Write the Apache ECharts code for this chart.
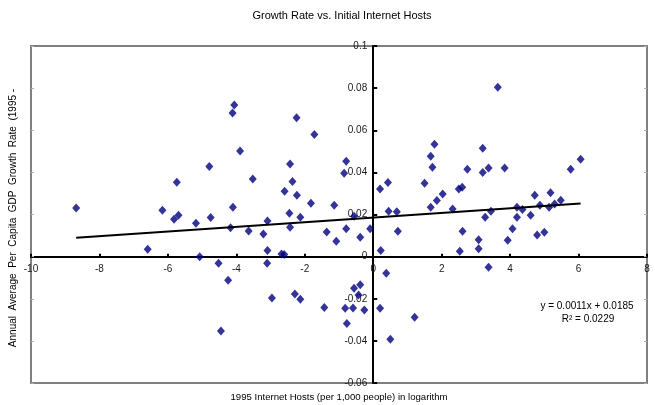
<!DOCTYPE html>
<html>
<head>
<meta charset="utf-8">
<script src="https://cdn.jsdelivr.net/npm/echarts@6/dist/echarts.min.js"></script>
<style>
  html, body { margin: 0; padding: 0; background: #fff; }
  #chart { width: 655px; height: 405px; }
</style>
</head>
<body>
<div id="chart"></div>
<script>
// 1995 internet hosts per 1,000 people (log) for each country
const hostsLog = [
  -8.68, -6.59, -6.16, -5.74, -5.69, -5.82, -5.18, -5.07, -4.79, -4.75,
  -4.52, -4.45, -4.24, -4.17, -4.10, -4.11, -4.06, -3.89, -3.64, -3.52,
  -3.21, -3.09, -3.09, -3.10, -2.96, -2.59, -2.60, -2.68, -2.45, -2.43,
  -2.43, -2.36, -2.29, -2.24, -2.23, -2.13, -2.13, -1.82, -1.72, -1.43,
  -1.36, -1.14, -1.08, -0.85, -0.79, -0.79, -0.82, -0.77, -0.59, -0.56,
  -0.56, -0.43, -0.38, -0.38, -0.26, -0.09,
  0.20, 0.43, 0.45, 0.69, 0.72, 0.22, 0.38, 0.20, 0.50, 1.21,
  1.50, 1.68, 1.68, 1.73, 1.79, 1.86, 2.03, 2.32, 2.50, 2.60,
  2.53, 2.61, 2.75, 3.08, 3.08, 3.20, 3.20, 3.27, 3.37, 3.37,
  3.44, 3.64, 3.84, 3.93, 4.07, 4.20, 4.20, 4.36, 4.60, 4.72,
  4.79, 4.87, 5.00, 5.14, 5.18, 5.30, 5.48, 5.77, 6.06
];

// Annual average per capita GDP growth rate for the same countries
const growthRate = [
  0.0231, 0.0035, 0.0220, 0.0353, 0.0197, 0.0178, 0.0158, 0.0000, 0.0428, 0.0186,
  -0.0032, -0.0353, -0.0112, 0.0137, 0.0234, 0.0682, 0.0720, 0.0501, 0.0122, 0.0368,
  0.0108, 0.0169, 0.0029, -0.0032, -0.0197, 0.0310, 0.0010, 0.0012, 0.0206, 0.0440,
  0.0139, 0.0357, -0.0177, 0.0659, 0.0291, 0.0187, -0.0202, 0.0253, 0.0580, -0.0241,
  0.0117, 0.0244, 0.0073, 0.0396, 0.0453, 0.0132, -0.0245, -0.0317, -0.0244, 0.0192,
  -0.0150, -0.0182, 0.0092, -0.0134, -0.0253, 0.0132,
  0.0321, 0.0352, 0.0215, 0.0213, 0.0120, 0.0029, -0.0079, -0.0245, -0.0392, -0.0288,
  0.0348, 0.0234, 0.0476, 0.0424, 0.0533, 0.0267, 0.0297, 0.0226, 0.0321, 0.0329,
  0.0025, 0.0120, 0.0415, 0.0080, 0.0037, 0.0515, 0.0399, 0.0187, 0.0421, -0.0051,
  0.0215, 0.0804, 0.0421, 0.0078, 0.0132, 0.0234, 0.0187, 0.0224, 0.0196, 0.0291,
  0.0103, 0.0244, 0.0116, 0.0234, 0.0303, 0.0250, 0.0268, 0.0415, 0.0462
];

// Linear trend fitted to the points
const trendSlope = 0.0011;
const trendIntercept = 0.0185;
const trendR2 = 0.0229;

// Axis ranges and tick steps
const xTicks = [-10, -8, -6, -4, -2, 0, 2, 4, 6, 8];
const yTicks = [-0.06, -0.04, -0.02, 0, 0.02, 0.04, 0.06, 0.08, 0.1];
const xStep = 2;
const yStep = 0.02;

const points = hostsLog.map((x, i) => [x, growthRate[i]]);
const xMinData = Math.min(...hostsLog);
const xMaxData = Math.max(...hostsLog);
const trendLine = [
  [xMinData, trendSlope * xMinData + trendIntercept],
  [xMaxData, trendSlope * xMaxData + trendIntercept]
];

const FONT = '"Liberation Sans", Arial, sans-serif';
const W = 655, H = 405;
const grid = { left: 31, right: 8, top: 46, bottom: 22 };
const gridW = W - grid.left - grid.right;
const gridH = H - grid.top - grid.bottom;

const xMin = xTicks[0], xMax = xTicks[xTicks.length - 1];
const yMin = yTicks[0], yMax = yTicks[yTicks.length - 1];

// The axes cross at the origin; tick labels sit beside the crossing lines,
// so label-only axes are shifted in from the grid edges to the zero lines.
const xLabelShift = -gridH * (0 - yMin) / (yMax - yMin);
const yLabelShift = -gridW * (0 - xMin) / (xMax - xMin);

const chart = echarts.init(document.getElementById('chart'), null, { renderer: 'canvas' });

const labelStyle = { color: '#1a1a1a', fontSize: 10, fontFamily: FONT };

const borderStubAxis = (pos) => ({
  type: 'value',
  position: pos,
  min: yMin, max: yMax, interval: yStep,
  axisLine: { show: false, onZero: false },
  axisTick: { show: true, inside: true, length: 3, lineStyle: { color: '#b0b0b0', width: 1 } },
  axisLabel: { show: false },
  splitLine: { show: false }
});

chart.setOption({
  animation: false,
  backgroundColor: '#ffffff',
  textStyle: { fontFamily: FONT },
  grid: Object.assign({ show: true, borderColor: '#808080', borderWidth: 2, backgroundColor: '#ffffff' }, grid),
  xAxis: [
    {
      type: 'value',
      min: xMin, max: xMax, interval: xStep,
      axisLine: { onZero: true, lineStyle: { color: '#000', width: 2 } },
      axisTick: { show: true, inside: true, length: 3, lineStyle: { color: '#000', width: 2 } },
      axisLabel: { show: false },
      splitLine: { show: false }
    },
    {
      type: 'value',
      position: 'bottom',
      offset: xLabelShift,
      min: xMin, max: xMax, interval: xStep,
      axisLine: { show: false, onZero: false },
      axisTick: { show: false },
      axisLabel: Object.assign({ margin: 8 }, labelStyle),
      splitLine: { show: false }
    }
  ],
  yAxis: [
    {
      type: 'value',
      min: yMin, max: yMax, interval: yStep,
      axisLine: { onZero: true, lineStyle: { color: '#000', width: 2 } },
      axisTick: { show: true, inside: true, length: 4, lineStyle: { color: '#000', width: 2 } },
      axisLabel: { show: false },
      splitLine: { show: false }
    },
    {
      type: 'value',
      position: 'left',
      offset: yLabelShift,
      min: yMin, max: yMax, interval: yStep,
      axisLine: { show: false, onZero: false },
      axisTick: { show: false },
      axisLabel: Object.assign({ margin: 6, formatter: (v) => String(+v.toFixed(2)) }, labelStyle),
      splitLine: { show: false }
    },
    borderStubAxis('left'),
    borderStubAxis('right')
  ],
  graphic: [
    {
      type: 'text', x: 342, y: 16,
      style: { text: 'Growth Rate vs. Initial Internet Hosts', fill: '#000', font: '11px ' + FONT, textAlign: 'center', textVerticalAlign: 'middle' }
    },
    {
      type: 'text', x: 339, y: 397,
      style: { text: '1995 Internet Hosts (per 1,000 people) in logarithm', fill: '#000', font: '9.6px ' + FONT, textAlign: 'center', textVerticalAlign: 'middle' }
    },
    {
      type: 'text', x: 13, y: 218, rotation: Math.PI / 2,
      style: { text: 'Annual  Average  Per  Capita  GDP  Growth  Rate  (1995 -', fill: '#000', font: '10px ' + FONT, textAlign: 'center', textVerticalAlign: 'middle' }
    },
    {
      type: 'text', x: 587, y: 306,
      style: { text: 'y = ' + trendSlope + 'x + ' + trendIntercept, fill: '#000', font: '10px ' + FONT, textAlign: 'center', textVerticalAlign: 'middle' }
    },
    {
      type: 'text', x: 588, y: 319,
      style: { text: 'R\u00B2 = ' + trendR2, fill: '#000', font: '10px ' + FONT, textAlign: 'center', textVerticalAlign: 'middle' }
    }
  ],
  series: [
    {
      type: 'scatter',
      xAxisIndex: 0,
      yAxisIndex: 0,
      data: points,
      symbol: 'diamond',
      symbolSize: [8, 9],
      itemStyle: { color: '#000080' },
      z: 3
    },
    {
      type: 'line',
      xAxisIndex: 0,
      yAxisIndex: 0,
      data: trendLine,
      symbol: 'none',
      lineStyle: { color: '#000', width: 2 },
      z: 4
    }
  ]
});
</script>
</body>
</html>
